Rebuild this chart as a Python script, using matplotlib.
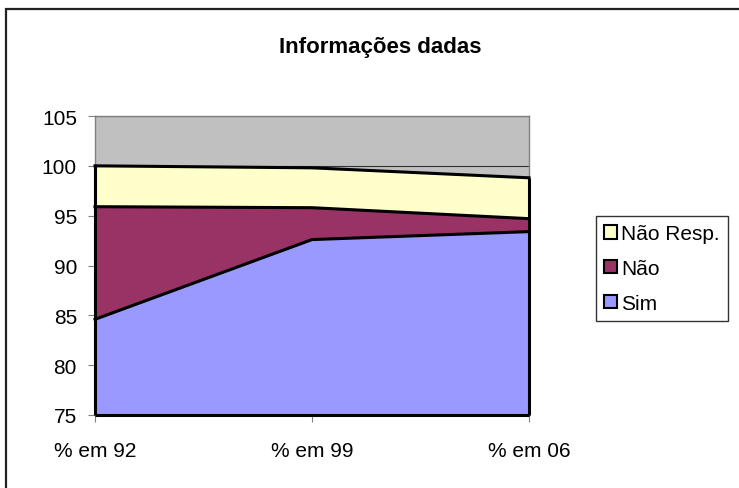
import numpy as np
import matplotlib.pyplot as plt
from matplotlib.patches import Patch, Rectangle

plt.rcParams['font.family'] = ['Liberation Sans', 'DejaVu Sans']

categories = ['% em 92', '% em 99', '% em 06']
sim = [84.6, 92.6, 93.4]
nao = [11.3, 3.2, 1.3]
nao_resp = [4.1, 4.0, 4.1]

labels = ['Sim', 'Não', 'Não Resp.']
colors = ['#9999FF', '#993366', '#FFFFCC']

fig = plt.figure(figsize=(7.39, 4.89), dpi=100)
ax = fig.add_axes([95 / 739, 1 - 416 / 489, 434 / 739, 299 / 489])

# outer chart frame (cut off on the right and bottom)
fig.patches.append(Rectangle((6 / 739, -0.1), 1.2, 1 - 10 / 489 + 0.1,
                             transform=fig.transFigure, fill=False,
                             edgecolor='#222222', linewidth=1.6))

x = np.arange(len(categories))
ax.stackplot(x, sim, nao, nao_resp, colors=colors, linewidth=0, zorder=3)

# black outlines of the stacked areas
tops = np.cumsum([sim, nao, nao_resp], axis=0)
for t in tops:
    ax.plot(x, t, color='black', linewidth=2.2, zorder=4, clip_on=False,
            solid_joinstyle='miter')
ax.vlines([x[0], x[-1]], 75, [tops[-1][0], tops[-1][-1]], color='black',
          linewidth=2.2, zorder=4, clip_on=False)
ax.hlines(75, x[0], x[-1], color='black', linewidth=2.2, zorder=4,
          clip_on=False)

ax.set_facecolor('#C0C0C0')
ax.set_xlim(0, 2)
ax.set_ylim(75, 105)
ax.set_yticks(range(75, 106, 5))
ax.set_xticks(x)
ax.set_xticklabels(categories)
ax.yaxis.grid(True, color='#333333', linewidth=0.8, zorder=1)
ax.set_axisbelow(True)

for s in ax.spines.values():
    s.set_color('#808080')
    s.set_linewidth(1.0)

ax.tick_params(axis='both', direction='out', length=5, width=0.8,
               color='#808080', labelsize=15)
ax.tick_params(axis='y', pad=8)
ax.tick_params(axis='x', pad=14)

fig.text(380 / 739, 1 - 48 / 489, 'Informações dadas', ha='center',
         va='center', fontsize=16, fontweight='bold')

handles = [Patch(facecolor=colors[i], edgecolor='black', linewidth=1.5)
           for i in [2, 1, 0]]
leg = fig.legend(handles, [labels[i] for i in [2, 1, 0]],
                 loc='upper left', bbox_to_anchor=(596 / 739, 1 - 217 / 489),
                 fontsize=15, frameon=True, fancybox=False, edgecolor='black',
                 handlelength=0.6, handleheight=0.6, handletextpad=0.2,
                 labelspacing=0.75, borderpad=0.4, borderaxespad=0)
leg.get_frame().set_linewidth(1.0)

fig.savefig('out.png', dpi=100)
